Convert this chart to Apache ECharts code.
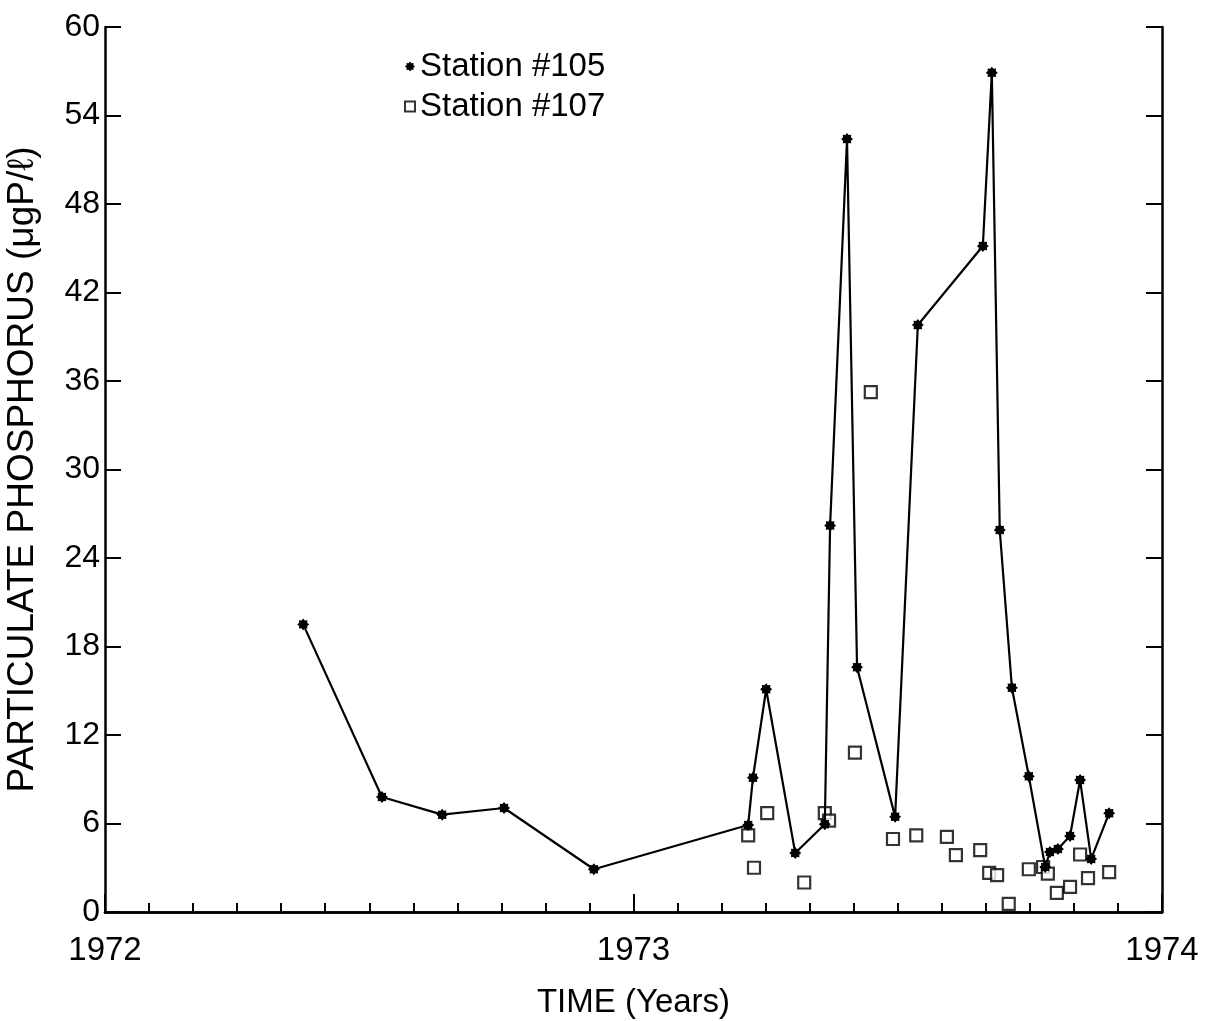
<!DOCTYPE html>
<html>
<head>
<meta charset="utf-8">
<script src="https://cdn.jsdelivr.net/npm/echarts@6/dist/echarts.min.js"></script>
<style>
  html, body { margin: 0; padding: 0; background: #fff; }
  #chart { width: 1213px; height: 1021px; }
</style>
</head>
<body>
<div id="chart"></div>
<script>
// station #105 (asterisks joined by a line)
var years105 = [1972.375, 1972.524, 1972.638, 1972.755, 1972.925, 1973.217, 1973.226, 1973.251,
  1973.306, 1973.362, 1973.372, 1973.404, 1973.423, 1973.495, 1973.538, 1973.661, 1973.678,
  1973.693, 1973.716, 1973.748, 1973.779, 1973.788, 1973.803, 1973.826, 1973.845, 1973.866, 1973.900];
var values105 = [19.5, 7.8, 6.6, 7.05, 2.9, 5.9, 9.1, 15.1,
  4.0, 5.95, 26.2, 52.4, 16.6, 6.45, 39.8, 45.15, 56.9,
  25.9, 15.2, 9.2, 3.05, 4.07, 4.27, 5.15, 8.95, 3.6, 6.7];

// station #107 (open squares)
var years107 = [1973.217, 1973.228, 1973.253, 1973.323, 1973.362, 1973.370, 1973.419, 1973.449,
  1973.491, 1973.535, 1973.593, 1973.610, 1973.656, 1973.673, 1973.688, 1973.710, 1973.748,
  1973.775, 1973.784, 1973.801, 1973.826, 1973.845, 1973.860, 1973.900];
var values107 = [5.2, 3.0, 6.7, 2.0, 6.7, 6.2, 10.8, 35.25,
  4.95, 5.2, 5.1, 3.85, 4.2, 2.65, 2.5, 0.55, 2.9,
  3.05, 2.6, 1.3, 1.7, 3.9, 2.3, 2.7];

var xTicks = [1972, 1973, 1974];

var starPath = 'path://M10,5 L8.33,6.38 L8.54,8.54 L6.38,8.33 L5,10 L3.62,8.33 L1.46,8.54 L1.67,6.38 L0,5 L1.67,3.62 L1.46,1.46 L3.62,1.67 L5,0 L6.38,1.67 L8.54,1.46 L8.33,3.62 Z';

var data105 = years105.map(function (x, i) { return [x, values105[i]]; });
var data107 = years107.map(function (x, i) { return [x, values107[i]]; });

var font = 'Liberation Sans, Arial, sans-serif';
var myChart = echarts.init(document.getElementById('chart'));
var option = {
  animation: false,
  backgroundColor: '#fff',
  textStyle: { fontFamily: font, color: '#000' },
  grid: { left: 105, right: 51, top: 27, bottom: 109, containLabel: false, outerBoundsMode: 'none' },
  legend: {
    orient: 'vertical',
    left: 399,
    top: 45,
    itemGap: 7,
    itemWidth: 10,
    itemHeight: 10,
    textStyle: { fontSize: 33, color: '#000', fontFamily: font },
    data: [
      { name: 'Station #105', icon: starPath, itemStyle: { color: '#000' } },
      { name: 'Station #107', icon: 'rect', itemStyle: { color: '#fff', borderColor: '#000', borderWidth: 2 } }
    ]
  },
  xAxis: [{
    type: 'value',
    min: 1972,
    max: 1974,
    interval: 1,
    name: 'TIME (Years)',
    nameLocation: 'middle',
    nameGap: 74,
    nameTextStyle: { fontSize: 33, color: '#000' },
    axisLine: { lineStyle: { color: '#000', width: 2.5 } },
    axisTick: { inside: true, length: 18, lineStyle: { color: '#000', width: 2 } },
    minorTick: { show: true, splitNumber: 12, length: 9, lineStyle: { color: '#000', width: 2 } },
    splitLine: { show: false },
    axisLabel: {
      fontSize: 33, color: '#000', margin: 22,
      formatter: function (v) { return xTicks.indexOf(v) >= 0 ? String(v) : ''; }
    }
  }, {
    type: 'value',
    position: 'top',
    min: 1972,
    max: 1974,
    axisLine: { lineStyle: { color: '#000', width: 2.5 } },
    axisTick: { show: false },
    axisLabel: { show: false },
    splitLine: { show: false }
  }],
  yAxis: [{
    type: 'value',
    min: 0,
    max: 60,
    interval: 6,
    name: 'PARTICULATE PHOSPHORUS (\u03bcgP/\u2113)',
    nameLocation: 'middle',
    nameGap: 64,
    nameTextStyle: { fontSize: 37, color: '#000' },
    axisLine: { show: true, lineStyle: { color: '#000', width: 2.5 } },
    axisTick: { inside: true, length: 16, lineStyle: { color: '#000', width: 2 } },
    splitLine: { show: false },
    axisLabel: { fontSize: 32, color: '#000', margin: 5 }
  }, {
    type: 'value',
    position: 'right',
    min: 0,
    max: 60,
    interval: 6,
    axisLine: { show: true, lineStyle: { color: '#000', width: 2.5 } },
    axisTick: { inside: true, length: 16, lineStyle: { color: '#000', width: 2 } },
    splitLine: { show: false },
    axisLabel: { show: false }
  }],
  series: [{
    name: 'Station #105',
    type: 'line',
    data: data105,
    symbol: starPath,
    symbolSize: 12,
    lineStyle: { color: '#000', width: 2.2 },
    itemStyle: { color: '#000' },
    z: 3
  }, {
    name: 'Station #107',
    type: 'scatter',
    data: data107,
    symbol: 'rect',
    symbolSize: 12,
    itemStyle: { color: '#fff', borderColor: '#000', borderWidth: 2.2 },
    z: 2
  }]
};
option && myChart.setOption(option);
</script>
</body>
</html>
